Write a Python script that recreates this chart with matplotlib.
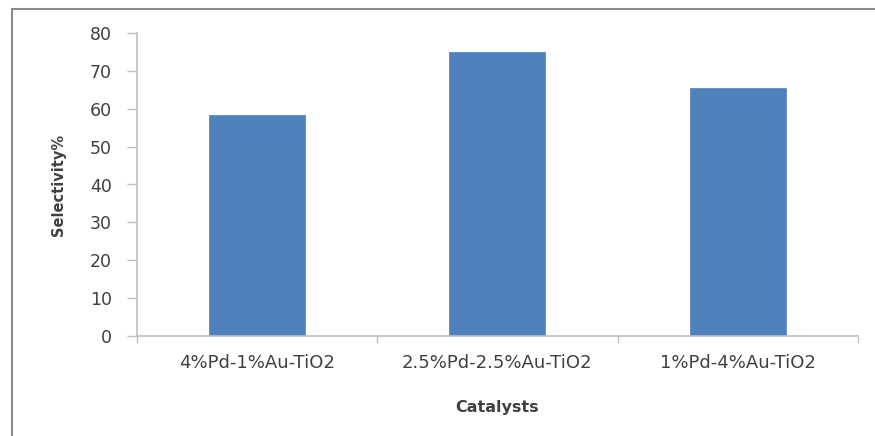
import matplotlib.pyplot as plt
from matplotlib.patches import Rectangle
import numpy as np

catalysts = ["4%Pd-1%Au-TiO2", "2.5%Pd-2.5%Au-TiO2", "1%Pd-4%Au-TiO2"]
selectivity = [58.5, 75.0, 65.6]
y_ticks = [0, 10, 20, 30, 40, 50, 60, 70, 80]

BAR_COLOR = "#4f81bd"
AXIS_COLOR = "#bfbfbf"
TEXT_COLOR = "#404040"

plt.rcParams["font.family"] = ["DejaVu Sans"]

fig = plt.figure(figsize=(8.75, 4.36), dpi=100)
# outer chart frame
fig.patches.append(Rectangle((12 / 875, -0.05), 1.0, (436 - 9.5) / 436 + 0.05,
                             transform=fig.transFigure, fill=False,
                             edgecolor="#8c8c8c", linewidth=1.5))

ax = fig.add_axes([136.7 / 875, 1 - 335.7 / 436, (858 - 136.7) / 875, (335.7 - 33.3) / 436])
x = np.arange(len(catalysts))
ax.bar(x, selectivity, width=0.4, color=BAR_COLOR, edgecolor="#5b8bc4", linewidth=0.6, zorder=2)

ax.set_xlim(-0.5, len(catalysts) - 0.5)
ax.set_ylim(0, 80)
ax.set_yticks(y_ticks)
ax.set_xticks(x)
ax.set_xticklabels(catalysts)
ax.set_xticks(np.arange(len(catalysts) + 1) - 0.5, minor=True)

for side in ["top", "right"]:
    ax.spines[side].set_visible(False)
for side in ["left", "bottom"]:
    ax.spines[side].set_color(AXIS_COLOR)
    ax.spines[side].set_linewidth(1.2)

ax.tick_params(axis="y", direction="out", length=7, width=1, color=AXIS_COLOR,
               labelsize=12.5, labelcolor=TEXT_COLOR, pad=11)
ax.tick_params(axis="x", which="major", length=0, labelsize=13,
               labelcolor=TEXT_COLOR, pad=13)
ax.tick_params(axis="x", which="minor", direction="out", length=5, width=1, color=AXIS_COLOR)

ax.set_ylabel("Selectivity%", fontsize=10.5, fontweight="bold", color=TEXT_COLOR, labelpad=17)
ax.set_xlabel("Catalysts", fontsize=11.5, fontweight="bold", color=TEXT_COLOR, labelpad=20)

fig.savefig("out.png", dpi=100)
